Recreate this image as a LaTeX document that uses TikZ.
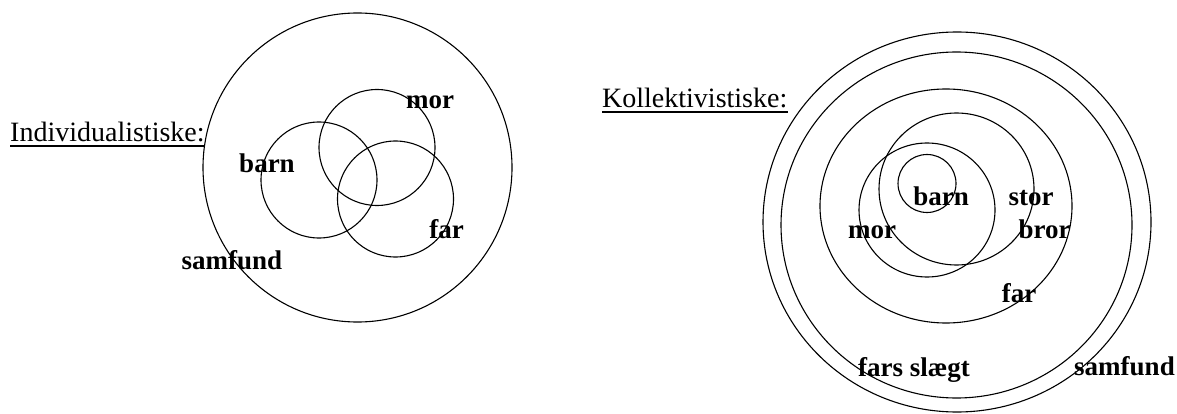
\documentclass[tikz,border=0pt]{standalone}
\usepackage{fontspec}
\setmainfont{Liberation Serif}
\begin{document}
\begin{tikzpicture}[x=1pt,y=-1pt,
  ring/.style={draw=black,line width=1.1pt},
  heading/.style={inner sep=0pt,anchor=base,font=\fontsize{28}{32}\selectfont},
  lbl/.style={inner sep=0pt,anchor=base,font=\fontsize{27}{30}\selectfont\bfseries},
  uline/.style={line width=1.3pt}]
\useasboundingbox[fill=white] (0,0) rectangle (1177,414);

% ---- individualistic family ----
\node[heading,anchor=base west] (hind) at (10,142) {Individualistiske:};
\draw[uline] ([yshift=-4pt]hind.base west) -- ([yshift=-4pt]hind.base east);

\draw[ring] (357.5,167.5) circle (154.5);
\draw[ring] (319,180) circle (58);
\draw[ring] (377,147.5) circle (58);
\draw[ring] (395.5,199) circle (58);

\node[lbl] (imor)  at (430,109)  {mor};
\node[lbl] (ibarn) at (267,173)  {barn};
\node[lbl] (ifar)  at (446.5,238) {far};
\node[lbl] (isam)  at (232,269)  {samfund};

% ---- collectivistic family ----
\node[heading,anchor=base west] (hkol) at (602,108) {Kollektivistiske:};
\draw[uline] ([yshift=-4pt]hkol.base west) -- ([yshift=-4pt]hkol.base east);

\draw[ring] (957,222) ellipse [x radius=194, y radius=190];
\draw[ring] (956.5,225) ellipse [x radius=175.5, y radius=173];
\draw[ring] (946,206) ellipse [x radius=126, y radius=117];
\draw[ring] (956.5,189) ellipse [x radius=77.5, y radius=76];
\draw[ring] (927,210) ellipse [x radius=68, y radius=67];
\draw[ring] (927,183.5) circle (29);

\node[lbl] (kbarn) at (941,205)   {barn};
\node[lbl] (kstor) at (1031,205)  {stor};
\node[lbl] (kbror) at (1044.5,238) {bror};
\node[lbl] (kmor)  at (872,238)   {mor};
\node[lbl] (kfar)  at (1019,302)  {far};
\node[lbl] (kslgt) at (914,376)   {fars slægt};
\node[lbl] (ksam)  at (1124.5,375) {samfund};
\end{tikzpicture}
\end{document}
